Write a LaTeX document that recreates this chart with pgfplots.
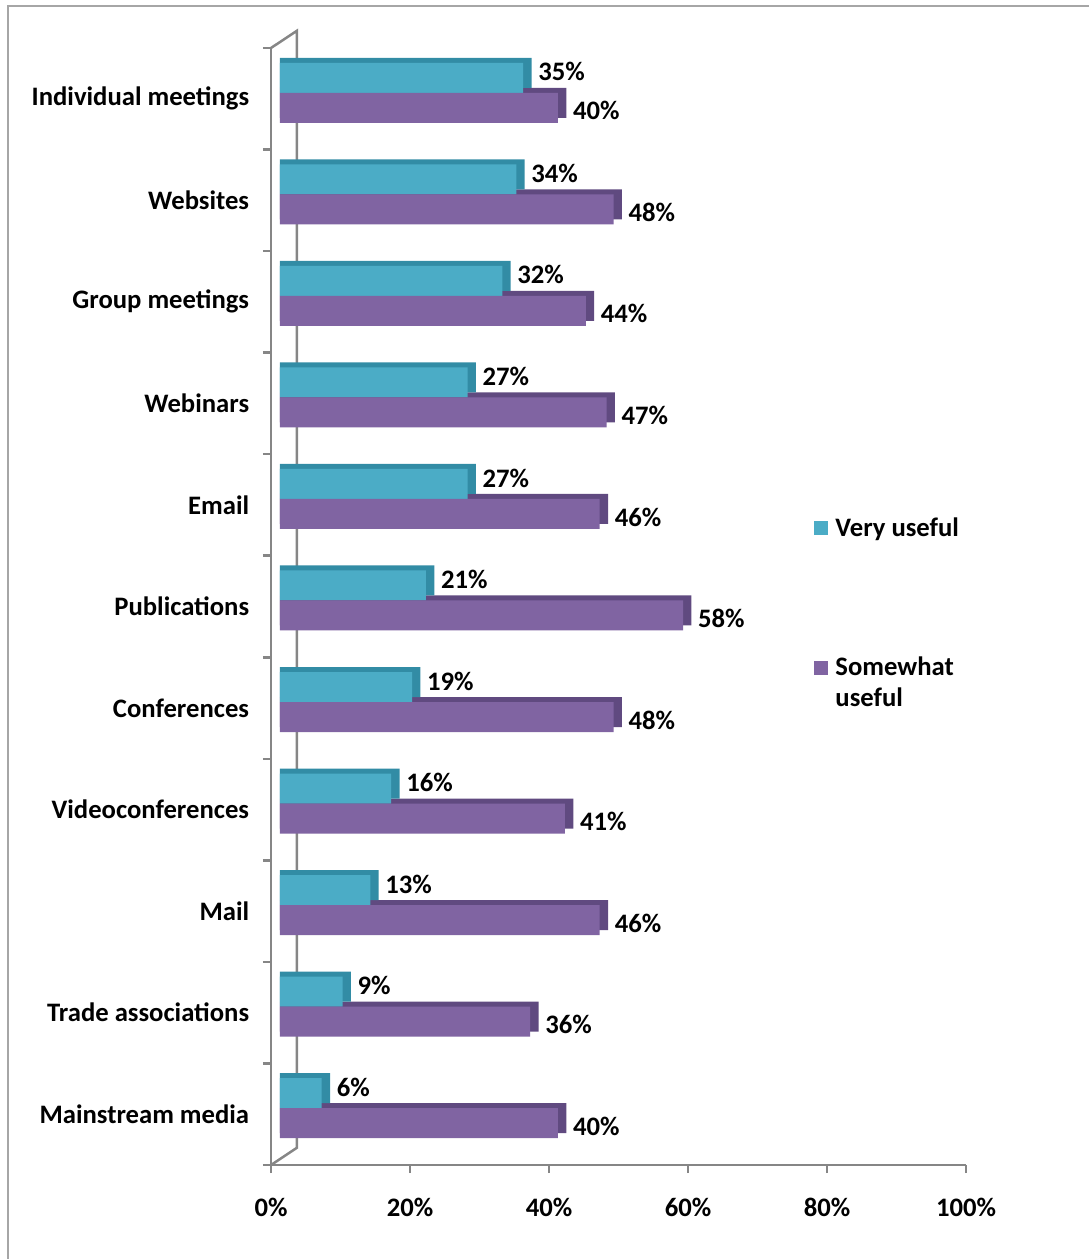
\documentclass[border=0pt]{standalone}
\usepackage{fontspec}
\setmainfont{Carlito}
\usepackage{pgfplots}
\usepackage{pgfplotstable}
\pgfplotsset{compat=1.18}
\definecolor{cyanF}{RGB}{75,172,198}
\definecolor{cyanD}{RGB}{50,140,165}
\definecolor{purpF}{RGB}{128,100,162}
\definecolor{purpD}{RGB}{96,74,128}
\definecolor{axgray}{RGB}{134,134,134}
\pgfplotstableread{
y  very some
10 35 40
9  34 48
8  32 44
7  27 47
6  27 46
5  21 58
4  19 48
3  16 41
2  13 46
1  9  36
0  6  40
}\datatab
\begin{document}
\begin{tikzpicture}
\useasboundingbox (-162.6pt,-56.4pt) rectangle (490.8pt,699pt);
\draw[gray!70, line width=1.2pt] (-157.5pt,-60pt) -- (-157.5pt,695.1pt) -- (495pt,695.1pt);
\begin{axis}[
  at={(0,0)}, anchor=south west,
  scale only axis, width=417pt, height=670.2pt,
  xmin=0, xmax=100, ymin=-0.5, ymax=10.5,
  clip=false,
  /pgf/number format/assume math mode=true,
  font=\bfseries\fontsize{16pt}{18.6pt}\selectfont,
  axis x line=bottom, axis y line=left,
  axis line style={-, draw=axgray, line width=1.5pt},
  tick align=outside,
  major tick length=0pt,
  minor tick length=4.8pt,
  every minor tick/.style={draw=axgray, line width=1.5pt},
  xtick={0,20,...,100},
  minor xtick={0,20,...,100},
  xticklabel={\pgfmathprintnumber{\tick}\%},
  xticklabel style={yshift=-16.5pt},
  ytick={0,...,10},
  minor ytick={-0.5,0.5,...,10.5},
  yticklabels={Mainstream media,Trade associations,Mail,Videoconferences,Conferences,Publications,Email,Webinars,Group meetings,Websites,Individual meetings},
  yticklabel style={xshift=-9.6pt},
  xbar, bar width=18pt,
  point meta=x,
  legend style={draw=none, fill=none, at={(rel axis cs:0.781,0.583)}, anchor=north west,
    row sep=67pt, inner sep=0pt,
    cells={anchor=west, align=left},
    font=\bfseries\fontsize{16pt}{18.6pt}\selectfont},
]
\draw[axgray, line width=1.5pt] (axis cs:0,10.5) -- (axis cs:3.74,10.67) -- (axis cs:3.74,-0.33) -- (axis cs:0,-0.5);
% depth faces
\addplot[forget plot, fill=purpD, draw=none, bar shift=-2.4pt, xshift=5.4pt]
  table[x expr=\thisrow{some}+1.2, y=y] {\datatab};
\addplot[forget plot, fill=cyanD, draw=none, bar shift=15.6pt, xshift=5.4pt]
  table[x expr=\thisrow{very}+1.2, y=y] {\datatab};
% front faces
\addplot[fill=cyanF, draw=none, bar shift=12.6pt, xshift=5.4pt,
  legend image code/.code={\fill (0pt,-4.2pt) rectangle (8.4pt,4.2pt); \path (10.8pt,0pt);},
  nodes near coords={\pgfmathprintnumber{\pgfplotspointmeta}\%},
  every node near coord/.append style={anchor=west, xshift=5.5pt, yshift=3.6pt, text=black}]
  table[x=very, y=y] {\datatab};
\addplot[fill=purpF, draw=none, bar shift=-5.4pt, xshift=5.4pt,
  legend image code/.code={\fill (0pt,5.1pt) rectangle (8.4pt,13.5pt); \path (10.8pt,5pt);},
  nodes near coords={\pgfmathprintnumber{\pgfplotspointmeta}\%},
  every node near coord/.append style={anchor=west, xshift=5.5pt, yshift=-1.8pt, text=black}]
  table[x=some, y=y] {\datatab};
\legend{Very useful, Somewhat\\useful}
\end{axis}
\end{tikzpicture}
\end{document}
